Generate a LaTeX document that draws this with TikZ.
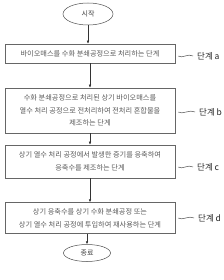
\documentclass[tikz,border=0pt]{standalone}
\usepackage{fontspec}
\setmainfont{Noto Sans CJK KR}
\usepackage{tikz}
\usetikzlibrary{arrows.meta,positioning,shapes.geometric}

\begin{document}
\begin{tikzpicture}[x=1pt,y=1pt,
  stepbox/.style={draw=black!60,rectangle,minimum width=170pt,align=center,font=\fontsize{7.2}{12.7}\selectfont,text=black!65,line width=0.5pt,inner sep=0pt},
  terminal/.style={draw=black!70,ellipse,font=\fontsize{7}{8}\selectfont,text=black!75,line width=0.5pt,inner sep=0pt},
  steplabel/.style={font=\fontsize{8.5}{10}\selectfont,text=black!85,anchor=west,inner sep=0pt},
  arr/.style={-{Latex[length=3pt,width=2.6pt]},line width=0.5pt,black!80},
  wave/.style={line width=0.5pt,black!70}
]
\useasboundingbox (0,0) rectangle (223,-280);

% Flow
\node[terminal,minimum width=50pt,minimum height=22pt] (start) at (88,-14) {시작};
\node[stepbox,minimum height=19pt] (stepa) at (90,-53.5) {바이오매스를 수화 분쇄공정으로 처리하는 단계};
\node[stepbox,minimum height=45pt] (stepb) at (90,-110.5) {수화 분쇄공정으로 처리된 상기 바이오매스를\\열수 처리 공정으로 전처리하여 전처리 혼합물을\\제조하는 단계};
\node[stepbox,minimum height=33pt] (stepc) at (90,-161.5) {상기 열수 처리 공정에서 발생한 증기를 응축하여\\응축수를 제조하는 단계};
\node[stepbox,minimum height=31pt] (stepd) at (90,-218) {상기 응축수를 상기 수화 분쇄공정 또는\\상기 열수 처리 공정에 투입하여 재사용하는 단계};
\node[terminal,minimum width=47pt,minimum height=17pt] (stop) at (87,-253) {종료};

% Step labels
\node[steplabel] (laba) at (197,-56) {단계 a};
\node[steplabel] (labb) at (199,-112) {단계 b};
\node[steplabel] (labc) at (197,-167) {단계 c};
\node[steplabel] (labd) at (198,-218) {단계 d};

% Arrows
\draw[arr] (start) -- (start|-stepa.north);
\draw[arr] (stepa) -- (stepb);
\draw[arr] (stepb) -- (stepc);
\draw[arr] (stepc) -- (stepd);
\draw[arr] (stepd.south-|stop) -- (stop);

% Waves
\foreach \b/\l in {stepa/laba,stepb/labb,stepc/labc,stepd/labd}
  \draw[wave] ([xshift=3pt]\b.east|-\l.west) .. controls +(4,-3) and +(-5,3) .. ([xshift=-4pt]\l.west);

\end{tikzpicture}
\end{document}
